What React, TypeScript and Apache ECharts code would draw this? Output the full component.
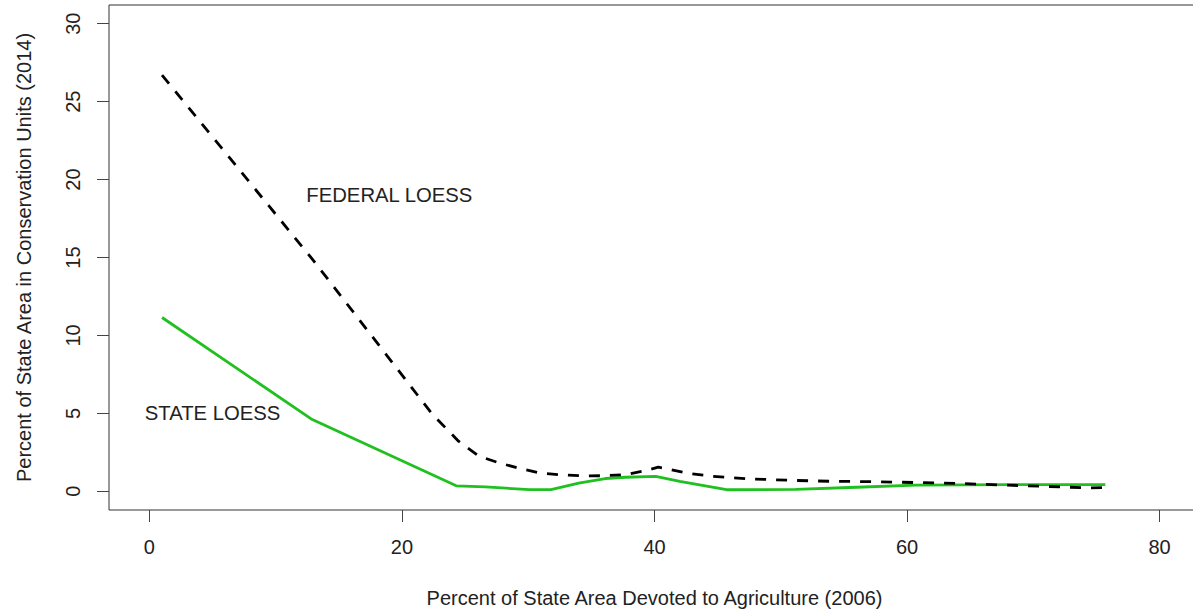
import React, { useEffect, useRef } from "react";
import * as echarts from "echarts";

const xTicks = [0, 20, 40, 60, 80];
const yTicks = [0, 5, 10, 15, 20, 25, 30];

const federalX = [1.0, 12.9, 22.4, 24.5, 26.1, 27.7, 29.3, 30.9, 32.4, 34.3, 36.1, 37.7, 39.3, 40.3, 42.7, 44.6, 47.5, 50.9, 54.1, 57.3, 60.7, 64.2, 67.3, 70.8, 74.2, 75.7];
const federalY = [26.7, 14.9, 4.95, 3.2, 2.25, 1.82, 1.47, 1.18, 1.07, 0.99, 1.0, 1.07, 1.33, 1.55, 1.15, 0.96, 0.8, 0.7, 0.64, 0.62, 0.56, 0.5, 0.41, 0.32, 0.22, 0.24];

const stateX = [1.0, 12.9, 24.3, 26.6, 30.1, 31.8, 34.0, 36.1, 37.7, 40.1, 42.0, 45.7, 51.2, 56.0, 60.7, 68.1, 75.7];
const stateY = [11.15, 4.6, 0.35, 0.28, 0.11, 0.11, 0.53, 0.82, 0.9, 0.96, 0.64, 0.1, 0.12, 0.26, 0.39, 0.43, 0.43];

const labelTexts = ["FEDERAL LOESS", "STATE LOESS"];
const labelX = [19, 5];
const labelY = [19, 5];

const FONT = "'Liberation Sans', Arial, sans-serif";

export default function App() {
  const ref = useRef<HTMLDivElement>(null);

  useEffect(() => {
    if (!ref.current) return;
    const chart = echarts.init(ref.current, null, { renderer: "svg" });
    chart.setOption({
      animation: false,
      backgroundColor: "#ffffff",
      grid: {
        left: 109,
        top: 5,
        width: 1091,
        height: 505,
        show: true,
        borderColor: "#333",
        borderWidth: 1,
        backgroundColor: "transparent",
      },
      xAxis: {
        type: "value",
        min: -3.2,
        max: 83.2,
        name: "Percent of State Area Devoted to Agriculture (2006)",
        nameLocation: "middle",
        nameGap: 78,
        nameTextStyle: { fontSize: 20, color: "#222", fontFamily: FONT, verticalAlign: "top" },
        splitLine: { show: false },
        axisLine: { show: false, onZero: false },
        axisTick: {
          show: true,
          inside: false,
          length: 12,
          customValues: xTicks,
          lineStyle: { color: "#444", width: 1 },
        },
        axisLabel: {
          customValues: xTicks,
          margin: 27,
          fontSize: 20,
          color: "#222",
          fontFamily: FONT,
        },
      },
      yAxis: {
        type: "value",
        min: -1.2,
        max: 31.2,
        name: "Percent of State Area in Conservation Units (2014)",
        nameLocation: "middle",
        nameGap: 75,
        nameTextStyle: { fontSize: 20, color: "#222", fontFamily: FONT },
        splitLine: { show: false },
        axisLine: { show: false, onZero: false },
        axisTick: {
          show: true,
          inside: false,
          length: 12,
          customValues: yTicks,
          lineStyle: { color: "#444", width: 1 },
        },
        axisLabel: {
          customValues: yTicks,
          rotate: 90,
          margin: 26,
          fontSize: 20,
          color: "#222",
          fontFamily: FONT,
        },
      },
      series: [
        {
          type: "line",
          name: "State LOESS",
          data: stateX.map((x, i) => [x, stateY[i]]),
          symbol: "none",
          showSymbol: false,
          lineStyle: { color: "#1fc01f", width: 2.8 },
          silent: true,
        },
        {
          type: "line",
          name: "Federal LOESS",
          data: federalX.map((x, i) => [x, federalY[i]]),
          symbol: "none",
          showSymbol: false,
          lineStyle: { color: "#000", width: 2.8, type: [11, 10] },
          silent: true,
        },
        {
          type: "scatter",
          data: labelTexts.map((t, i) => [labelX[i], labelY[i], t]),
          symbolSize: 1,
          itemStyle: { color: "rgba(0,0,0,0)", opacity: 1 },
          silent: true,
          label: {
            show: true,
            position: "inside",
            formatter: (p: any) => p.data[2],
            fontSize: 20.3,
            color: "#222",
            opacity: 1,
            textBorderWidth: 0,
            fontFamily: FONT,
          },
        },
      ],
    });
    return () => chart.dispose();
  }, []);

  return (
    <div
      style={{
        position: "fixed",
        left: 0,
        top: 0,
        width: 1193,
        height: 614,
        overflow: "hidden",
        background: "#fff",
      }}
    >
      <div ref={ref} style={{ width: 1200, height: 614 }} />
    </div>
  );
}
